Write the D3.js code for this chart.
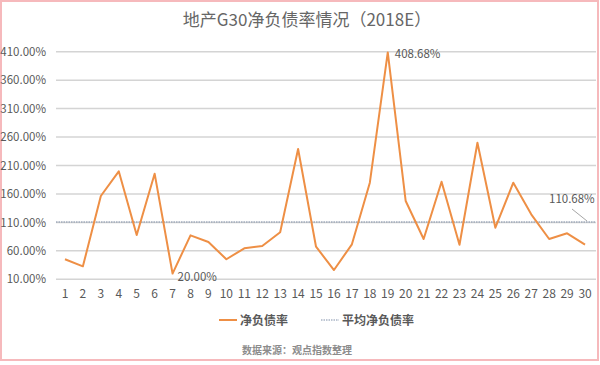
<!DOCTYPE html>
<html><head><meta charset="utf-8">
<script src="https://cdn.jsdelivr.net/npm/d3@7"></script>
<style>body{margin:0;background:#fff;}svg{display:block;font-family:"Noto Sans CJK SC","Noto Sans",sans-serif;}</style>
</head><body>
<script>
const categories = d3.range(1, 31).map(String);
const netDebtRatio = [45.2, 32.8, 156.4, 199.8, 87.9, 195.6, 20.0, 87.3, 75.6, 45.2,
  64.5, 68.5, 92.6, 239.0, 67.3, 26.3, 71.5, 179.8, 408.68, 147.6,
  80.8, 181.5, 70.8, 250.0, 100.7, 179.8, 124.2, 80.8, 90.8, 70.8];
const averageRatio = 110.68;
const yTicks = [10, 60, 110, 160, 210, 260, 310, 360, 410];
const title = "地产G30净负债率情况（2018E）";
const seriesNames = ["净负债率", "平均净负债率"];
const source = "数据来源：观点指数整理";

const W = 600, H = 365;
const svg = d3.select("body").append("svg").attr("width", W).attr("height", H);

svg.append("rect").attr("x", 1).attr("y", 1).attr("width", 597).attr("height", 359)
  .attr("fill", "#fff").attr("stroke", "#f6b9bc").attr("stroke-width", 2);

const x = d3.scaleBand().domain(categories).range([56, 594]);
const y = d3.scaleLinear().domain([10, 410]).range([279.3, 51.7]);
const cx = d => x(d) + x.bandwidth() / 2;

svg.append("text").attr("x", 307).attr("y", 26).attr("text-anchor", "middle")
  .attr("font-size", 17).attr("fill", "#666666").text(title);

// gridlines
svg.append("g").selectAll("line").data(yTicks).join("line")
  .attr("x1", 56).attr("x2", 596).attr("y1", d => y(d)).attr("y2", d => y(d))
  .attr("stroke", "#d4d4d4").attr("stroke-width", 1.5);

// y axis labels
const yAxis = d3.axisLeft(y).tickValues(yTicks).tickSize(0).tickPadding(0)
  .tickFormat(d => d3.format(".2f")(d) + "%");
const ga = svg.append("g").attr("transform", "translate(46,0)").call(yAxis);
ga.select(".domain").remove();
ga.selectAll("text").attr("font-size", 11.5).attr("fill", "#595959").attr("font-family", "Noto Sans CJK SC");

// x axis labels
const xAxis = d3.axisBottom(x).tickSize(0).tickPadding(0);
const gx = svg.append("g").attr("transform", "translate(0,289)").call(xAxis);
gx.select(".domain").remove();
gx.selectAll("text").attr("font-size", 12).attr("fill", "#595959").attr("font-family", "Noto Sans CJK SC");

// average line
svg.append("line").attr("x1", 56).attr("x2", 596).attr("y1", y(averageRatio)).attr("y2", y(averageRatio))
  .attr("stroke", "#7f8fa9").attr("stroke-width", 1).attr("stroke-dasharray", "1.5,1");

// series line
const line = d3.line().x((d, i) => cx(categories[i])).y(d => y(d));
svg.append("path").datum(netDebtRatio).attr("d", line)
  .attr("fill", "none").attr("stroke", "#ee8f45").attr("stroke-width", 2).attr("stroke-linejoin", "round");

// labels
const fmt = d => d3.format(".2f")(d) + "%";
const iMin = d3.minIndex(netDebtRatio), iMax = d3.maxIndex(netDebtRatio);
svg.append("text").attr("x", cx(categories[iMin]) + 5).attr("y", y(netDebtRatio[iMin]) + 7)
  .attr("font-size", 11.5).attr("fill", "#595959").text(fmt(netDebtRatio[iMin]));
svg.append("text").attr("x", cx(categories[iMax]) + 7).attr("y", y(netDebtRatio[iMax]) + 6)
  .attr("font-size", 11.5).attr("fill", "#595959").text(fmt(netDebtRatio[iMax]));
svg.append("text").attr("x", 549).attr("y", y(averageRatio) - 19)
  .attr("font-size", 11.5).attr("fill", "#595959").text(fmt(averageRatio));
svg.append("line").attr("x1", 572).attr("y1", y(averageRatio) - 13).attr("x2", 587).attr("y2", y(averageRatio) - 1)
  .attr("stroke", "#a6a6a6").attr("stroke-width", 1);

// legend
const lg = svg.append("g");
lg.append("line").attr("x1", 219).attr("x2", 237).attr("y1", 320).attr("y2", 320)
  .attr("stroke", "#ee8f45").attr("stroke-width", 2);
lg.append("text").attr("x", 240).attr("y", 324.5).attr("font-size", 12).attr("font-weight", "bold")
  .attr("fill", "#595959").text(seriesNames[0]);
lg.append("line").attr("x1", 321).attr("x2", 339).attr("y1", 320).attr("y2", 320)
  .attr("stroke", "#7f8fa9").attr("stroke-width", 1).attr("stroke-dasharray", "1.5,1");
lg.append("text").attr("x", 342).attr("y", 324.5).attr("font-size", 12).attr("font-weight", "bold")
  .attr("fill", "#595959").text(seriesNames[1]);

svg.append("text").attr("x", 297).attr("y", 354).attr("text-anchor", "middle")
  .attr("font-size", 10).attr("font-weight", "bold").attr("fill", "#8c8c8c").text(source);
</script>
</body></html>
